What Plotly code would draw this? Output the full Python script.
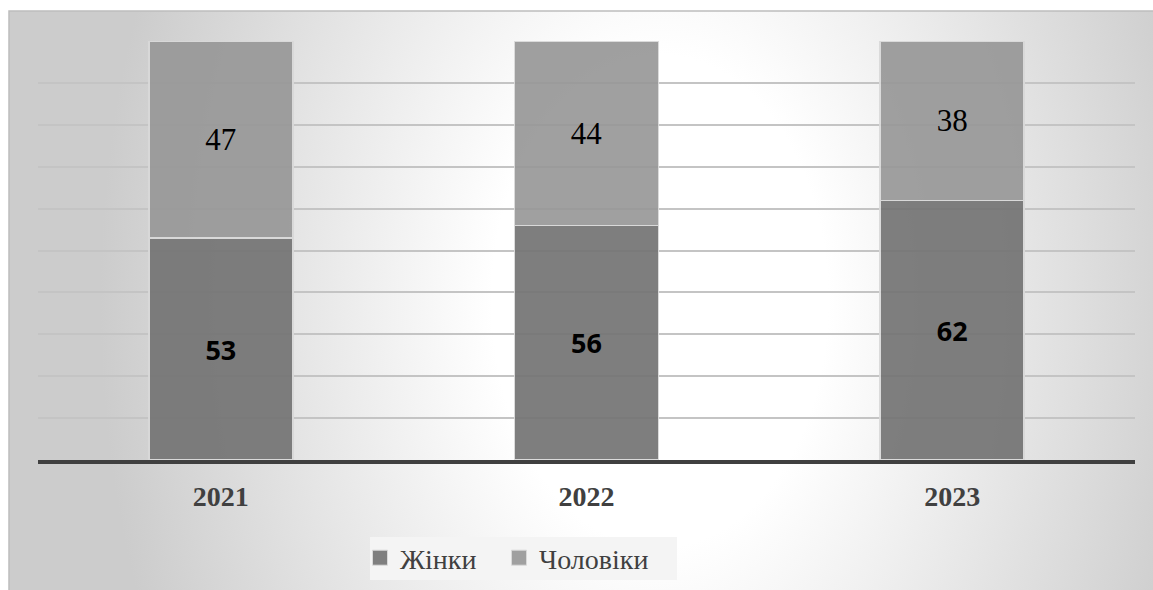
import base64
import plotly.graph_objects as go

# Share of respondents by gender, per year (percent)
years = ["2021", "2022", "2023"]
women = [53, 56, 62]
men = [47, 44, 38]
series_names = ["Жінки", "Чоловіки"]

W, H = 1153, 590
ML, MR, MT, MB = 38, 18, 41, 130
PW = W - ML - MR
PH = H - MT - MB

WOMEN_COLOR = "#747474"
MEN_COLOR = "#989898"


# pixel -> paper coordinate helpers for the background panel
def px_x(px):
    return (px - ML) / PW


def px_y(py):
    return (H - MB - py) / PH


# soft elliptical radial background panel
svg = (
    "<svg xmlns='http://www.w3.org/2000/svg' width='1144' height='579' "
    "preserveAspectRatio='none' viewBox='0 0 1144 579'>"
    "<defs><radialGradient id='g' cx='0' cy='0' r='1' "
    "gradientUnits='userSpaceOnUse' "
    "gradientTransform='translate(651,290) scale(560,820)'>"
    "<stop offset='0' stop-color='#ffffff'/>"
    "<stop offset='0.3' stop-color='#ffffff'/>"
    "<stop offset='1' stop-color='#cccccc'/>"
    "</radialGradient></defs>"
    "<rect x='0' y='0' width='1144' height='579' fill='url(#g)'/></svg>"
)
bg_uri = "data:image/svg+xml;base64," + base64.b64encode(svg.encode()).decode()

fig = go.Figure()

fig.add_trace(go.Bar(
    name=series_names[0],
    x=years,
    y=women,
    text=[str(v) for v in women],
    textposition="inside",
    insidetextanchor="middle",
    textangle=0,
    constraintext="none",
    textfont=dict(family="Open Sans", size=27, color="#000000", weight="bold"),
    marker=dict(color=WOMEN_COLOR, opacity=0.92,
                line=dict(color="#d9d9d9", width=1.5)),
    showlegend=False,
))
fig.add_trace(go.Bar(
    name=series_names[1],
    x=years,
    y=men,
    text=[str(v) for v in men],
    textposition="inside",
    insidetextanchor="middle",
    textangle=0,
    constraintext="none",
    textfont=dict(family="Liberation Serif", size=31, color="#000000"),
    marker=dict(color=MEN_COLOR, opacity=0.92,
                line=dict(color="#d9d9d9", width=1.5)),
    showlegend=False,
))

# legend entries with larger square swatches, one legend box per series
for name, color, lg in zip(series_names, ["#7f7f7f", "#a0a0a0"],
                           ["legend", "legend2"]):
    fig.add_trace(go.Scatter(
        name=name,
        x=[None],
        y=[None],
        mode="markers",
        marker=dict(symbol="square", size=15, color=color,
                    line=dict(color="#d9d9d9", width=1)),
        showlegend=True,
        legend=lg,
        hoverinfo="skip",
    ))

legend_style = dict(
    orientation="h",
    xanchor="left",
    y=px_y(533),
    yanchor="top",
    bgcolor="rgba(0,0,0,0)",
    font=dict(family="Liberation Serif", size=28, color="#404040"),
    itemwidth=30,
    itemsizing="trace",
)

fig.update_layout(
    width=W,
    height=H,
    barmode="stack",
    bargap=0.606,
    margin=dict(l=ML, r=MR, t=MT, b=MB, autoexpand=False),
    paper_bgcolor="#ffffff",
    plot_bgcolor="rgba(0,0,0,0)",
    showlegend=True,
    legend=dict(x=px_x(360), **legend_style),
    legend2=dict(x=px_x(499), **legend_style),
    images=[dict(
        source=bg_uri,
        xref="paper", yref="paper",
        x=px_x(9), y=px_y(11),
        sizex=(W - 9) / PW, sizey=(H - 11) / PH,
        xanchor="left", yanchor="top",
        sizing="stretch",
        layer="below",
    )],
    shapes=[
        # outer chart frame
        dict(
            type="rect", xref="paper", yref="paper",
            x0=px_x(9), x1=px_x(W + 4), y0=px_y(H + 4), y1=px_y(11),
            line=dict(color="#bdbdbd", width=1.5),
            fillcolor="rgba(0,0,0,0)",
            layer="below",
        ),
        # legend backdrop
        dict(
            type="rect", xref="paper", yref="paper",
            x0=px_x(370), x1=px_x(677), y0=px_y(580), y1=px_y(537),
            line=dict(width=0),
            fillcolor="#f4f4f4",
            layer="below",
        ),
    ],
    xaxis=dict(
        showline=True,
        linecolor="#404040",
        linewidth=3.5,
        ticks="",
        showgrid=False,
        tickfont=dict(family="Liberation Serif", size=28, color="#404040",
                      weight="bold"),
        ticklabelstandoff=9,
    ),
    yaxis=dict(
        range=[0, 100.05],
        tick0=0,
        dtick=10,
        showgrid=True,
        gridcolor="#c4c4c4",
        gridwidth=1.5,
        showticklabels=False,
        zeroline=False,
        showline=False,
        ticks="",
    ),
)

fig.write_html("out.html")
